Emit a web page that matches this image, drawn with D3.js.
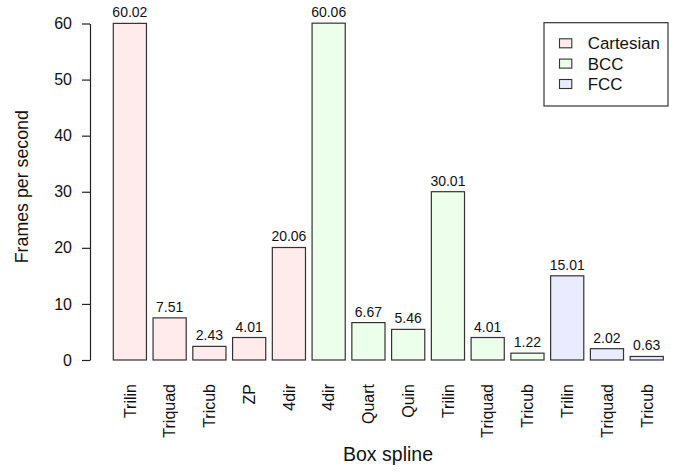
<!DOCTYPE html>
<html><head><meta charset="utf-8">
<script src="https://cdn.jsdelivr.net/npm/d3@7"></script>
<style>body{margin:0;background:#fff}text{font-family:"Liberation Sans",Arial,Helvetica,sans-serif;fill:#111}</style>
</head><body><svg id="c" width="695" height="476"></svg>
<script>
const labels = ["Trilin","Triquad","Tricub","ZP","4dir","4dir","Quart","Quin","Trilin","Triquad","Tricub","Trilin","Triquad","Tricub"];
const values = [60.02,7.51,2.43,4.01,20.06,60.06,6.67,5.46,30.01,4.01,1.22,15.01,2.02,0.63];
const groups = ["Cartesian","Cartesian","Cartesian","Cartesian","Cartesian","BCC","BCC","BCC","BCC","BCC","BCC","FCC","FCC","FCC"];
const valueText = ["60.02","7.51","2.43","4.01","20.06","60.06","6.67","5.46","30.01","4.01","1.22","15.01","2.02","0.63"];
const legendNames = ["Cartesian","BCC","FCC"];
const legendColors = ["#FFEBEB","#EBFFEB","#EBEBFF"];
const yTicks = [0,10,20,30,40,50,60];

const svg = d3.select("#c");
const color = d3.scaleOrdinal().domain(legendNames).range(legendColors);
const x = d3.scaleBand().domain(d3.range(values.length)).range([113.3,663.3]).paddingInner(0.166).paddingOuter(0);
const y = d3.scaleLinear().domain([0,60]).range([360,23.5]);

// y axis
const ya = svg.append("g").attr("transform","translate(90,0)")
  .call(d3.axisLeft(y).tickValues(yTicks).tickSize(8).tickSizeOuter(0).tickPadding(10));
ya.select(".domain").attr("stroke","#222").attr("stroke-width",1.2);
ya.selectAll(".tick line").attr("stroke","#222").attr("stroke-width",1.2);
ya.selectAll(".tick text").style("font-size","16px").attr("fill","#111").attr("font-family","Liberation Sans, Arial, sans-serif");

// bars
svg.append("g").selectAll("rect").data(values).join("rect")
  .attr("x",(d,i)=>x(i)).attr("width",x.bandwidth())
  .attr("y",d=>y(d)).attr("height",d=>y(0)-y(d))
  .attr("fill",(d,i)=>color(groups[i])).attr("stroke","#333").attr("stroke-width",1.2);

// value labels
svg.append("g").selectAll("text").data(values).join("text")
  .attr("x",(d,i)=>x(i)+x.bandwidth()/2).attr("y",d=>y(d)-6)
  .attr("text-anchor","middle").style("font-size","14px")
  .text((d,i)=>valueText[i]);

// x category labels
svg.append("g").selectAll("text").data(labels).join("text")
  .attr("transform",(d,i)=>`translate(${x(i)+x.bandwidth()/2+5.8},384) rotate(-90)`)
  .attr("text-anchor","end").style("font-size","16px")
  .text(d=>d);

// axis titles
svg.append("text").attr("x",388).attr("y",461).attr("text-anchor","middle").style("font-size","19.5px").text("Box spline");
svg.append("text").attr("transform","translate(28,186.7) rotate(-90)").attr("text-anchor","middle").style("font-size","17.8px").text("Frames per second");

// legend
const lg = svg.append("g");
lg.append("rect").attr("x",544).attr("y",22.7).attr("width",124).attr("height",83.3).attr("fill","#fff").attr("stroke","#333").attr("stroke-width",1.2);
const rowsY = [43.3,63.6,84];
legendNames.forEach((n,i)=>{
  lg.append("rect").attr("x",559.5).attr("y",rowsY[i]-4.5).attr("width",12.3).attr("height",9).attr("fill",legendColors[i]).attr("stroke","#333").attr("stroke-width",1.1);
  lg.append("text").attr("x",587.7).attr("y",rowsY[i]+6).style("font-size","16.9px").text(n);
});
</script></body></html>
